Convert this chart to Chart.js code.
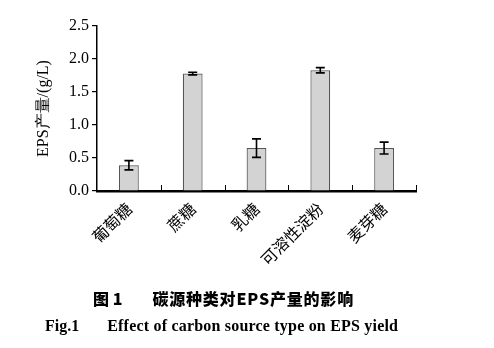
<!DOCTYPE html>
<html>
<head>
<meta charset="utf-8">
<script src="https://cdn.jsdelivr.net/npm/chart.js@4/dist/chart.umd.min.js"></script>
<style>
  html, body { margin: 0; padding: 0; background: #fff; }
  #wrap { position: relative; width: 494px; height: 348px; }
  canvas { position: absolute; left: 0; top: 0; }
  .cap { position: absolute; white-space: nowrap; color: #000; font-weight: bold; }
  #cap1 { left: 93px; top: 286px; font-family: "Noto Sans CJK SC", sans-serif; font-size: 16px; font-weight: 900; }
  #cap1 .gap { display: inline-block; width: 30px; }
  #cap1 .t { letter-spacing: 0.8px; }
  #cap2 { left: 45px; top: 317px; font-family: "Liberation Serif", serif; font-size: 16px; }
  #cap2 .gap { display: inline-block; width: 28px; }
  #cap2 .t { letter-spacing: 0.2px; }
</style>
</head>
<body>
<div id="wrap">
  <canvas id="c" width="494" height="348"></canvas>
  <div class="cap" id="cap1">图 1<span class="gap"></span><span class="t">碳源种类对EPS产量的影响</span></div>
  <div class="cap" id="cap2">Fig.1<span class="gap"></span><span class="t">Effect of carbon source type on EPS yield</span></div>
</div>
<script>
// Carbon sources and EPS yield (g/L) with standard deviations
const categories = ['葡萄糖', '蔗糖', '乳糖', '可溶性淀粉', '麦芽糖'];
const yieldValues = [0.39, 1.78, 0.65, 1.83, 0.65];
const yieldErrors = [0.07, 0.02, 0.14, 0.04, 0.09];
const yTicks = [0, 0.5, 1.0, 1.5, 2.0, 2.5];

const serif = '"Liberation Serif", "Times New Roman", serif';
const cjk = '"Noto Sans CJK SC", sans-serif';

// Error bars with caps, drawn through the y scale
const errorBars = {
  id: 'errorBars',
  afterDatasetsDraw(chart) {
    const { ctx, scales: { x, y } } = chart;
    ctx.save();
    ctx.strokeStyle = '#000';
    ctx.lineWidth = 1.6;
    yieldValues.forEach((v, i) => {
      const e = yieldErrors[i];
      const px = x.getPixelForValue(i);
      const top = y.getPixelForValue(v + e);
      const bot = y.getPixelForValue(v - e);
      ctx.beginPath();
      ctx.moveTo(px, top); ctx.lineTo(px, bot);
      ctx.moveTo(px - 4.5, top); ctx.lineTo(px + 4.5, top);
      ctx.moveTo(px - 4.5, bot); ctx.lineTo(px + 4.5, bot);
      ctx.stroke();
    });
    ctx.restore();
  }
};

// Short inward ticks on the category axis at the category boundaries
const categoryTicks = {
  id: 'categoryTicks',
  afterDraw(chart) {
    const { ctx, scales: { x, y } } = chart;
    const base = y.getPixelForValue(0);
    ctx.save();
    ctx.strokeStyle = '#000';
    ctx.lineWidth = 1;
    for (let i = 0; i < categories.length; i++) {
      const px = (x.getPixelForValue(i) + x.getPixelForValue(i + 1)) / 2;
      ctx.beginPath();
      ctx.moveTo(Math.round(px) + 0.5, base);
      ctx.lineTo(Math.round(px) + 0.5, base - 6);
      ctx.stroke();
    }
    ctx.restore();
  }
};

new Chart(document.getElementById('c'), {
  type: 'bar',
  data: {
    labels: categories,
    datasets: [{
      data: yieldValues,
      backgroundColor: '#d3d3d3',
      borderColor: '#555',
      borderWidth: 1.2,
      categoryPercentage: 1,
      barPercentage: 0.31
    }]
  },
  options: {
    responsive: false,
    animation: false,
    devicePixelRatio: 1,
    layout: { padding: { top: 26, right: 78, left: 0, bottom: 0 } },
    plugins: { legend: { display: false }, tooltip: { enabled: false } },
    scales: {
      x: {
        afterFit(scale) { scale.height = 157; },
        grid: { display: false, drawTicks: false },
        border: { display: true, color: '#000', width: 2.5 },
        ticks: {
          minRotation: 45, maxRotation: 45,
          color: '#000',
          padding: 8,
          font: { family: cjk, size: 16 }
        }
      },
      y: {
        min: 0, max: 2.5,
        afterFit(scale) { scale.width = 97; },
        afterBuildTicks(scale) { scale.ticks = yTicks.map(v => ({ value: v })); },
        grid: { drawOnChartArea: false, drawTicks: true, tickLength: 5, color: '#000', lineWidth: 1.2 },
        border: { display: true, color: '#000', width: 1.5 },
        title: {
          display: true,
          text: 'EPS产量/(g/L)',
          color: '#000',
          font: { family: serif, size: 16 },
          padding: { top: 34, bottom: 0 }
        },
        ticks: {
          color: '#000',
          padding: 3,
          font: { family: serif, size: 16 },
          callback: v => Number(v).toFixed(1)
        }
      }
    }
  },
  plugins: [errorBars, categoryTicks]
});
</script>
</body>
</html>
